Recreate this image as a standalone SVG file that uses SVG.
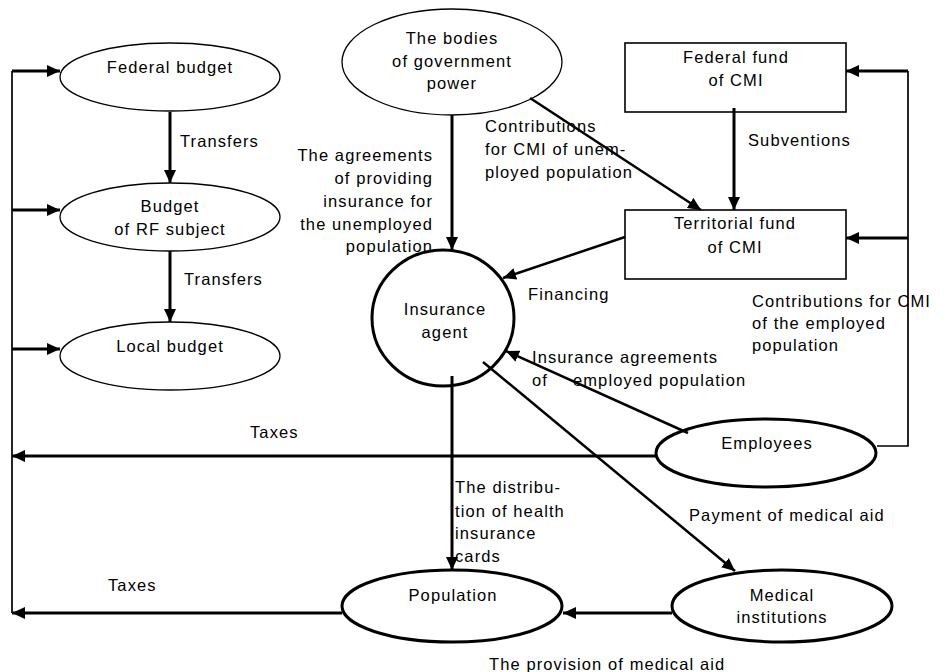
<svg xmlns="http://www.w3.org/2000/svg" width="950" height="672" viewBox="0 0 950 672">
<style>
text{font-family:"Liberation Sans",Arial,sans-serif;font-size:16.5px;letter-spacing:1.1px;fill:#000}
.c{text-anchor:middle}
.r{text-anchor:end}
.thin{fill:none;stroke:#000;stroke-width:1.3}
.thick{fill:none;stroke:#000;stroke-width:3}
.box{fill:none;stroke:#000;stroke-width:1.6}
.a{fill:none;stroke:#000;stroke-width:3;marker-end:url(#ah)}
.a2{fill:none;stroke:#000;stroke-width:2.5;marker-end:url(#ah)}
.ln{fill:none;stroke:#000;stroke-width:1.7}
</style>
<defs>
<marker id="ah" markerUnits="userSpaceOnUse" markerWidth="14" markerHeight="12" refX="13" refY="6" orient="auto">
<path d="M0,0 L13,6 L0,12 z" fill="#000"/>
</marker>
</defs>
<rect width="950" height="672" fill="#fff"/>
<g id="connectors">
<path class="ln" d="M12,71 V613"/>
<path class="a" d="M12,71 H60"/>
<path class="a" d="M12,210 H60"/>
<path class="a" d="M12,349 H60"/>
<path class="a" d="M170,112 V183"/>
<path class="a" d="M170,251 V322"/>
<path class="a" d="M656,456 H12"/>
<path class="a" d="M342,613 H12"/>
<path class="a" d="M452,115 V250"/>
<path class="a2" d="M530,98 L701,210"/>
<path class="a" d="M734,108 V210"/>
<path class="ln" d="M877,446 H908 V71"/>
<path class="a" d="M908,71 H846"/>
<path class="a" d="M908,238 H846"/>
<path class="a2" d="M625,237 L503,278"/>
<path class="a2" d="M688,433 L506,351"/>
<path class="a2" d="M483,362 L735,571"/>
<path class="a" d="M452,376 V570"/>
<path class="a" d="M672,613 H563"/>
<text x="180" y="147">Transfers</text>
<text x="184" y="285">Transfers</text>
<text x="250" y="438">Taxes</text>
<text x="108" y="591">Taxes</text>
<text class="r" x="433" y="161">The agreements</text>
<text class="r" x="433" y="184">of providing</text>
<text class="r" x="433" y="207">insurance for</text>
<text class="r" x="433" y="230">the unemployed</text>
<text class="r" x="433" y="252">population</text>
<text x="485" y="132">Contributions</text>
<text x="485" y="155">for CMI of  unem-</text>
<text x="485" y="178">ployed population</text>
<text x="748" y="146">Subventions</text>
<text x="528" y="300">Financing</text>
<text x="752" y="307">Contributions for CMI</text>
<text x="752" y="329">of the employed</text>
<text x="752" y="351">population</text>
<text x="532" y="363">Insurance agreements</text>
<text x="532" y="386">of</text>
<text x="573" y="386">employed population</text>
<text x="689" y="521">Payment of medical aid</text>
<text x="455" y="493">The distribu-</text>
<text x="455" y="517">tion of health</text>
<text x="455" y="539">insurance</text>
<text x="455" y="562">cards</text>
<text x="489" y="670">The provision of medical aid</text>
</g>
<g id="federal-budget">
<ellipse class="thin" cx="170" cy="77" rx="110" ry="34"/>
<text class="c" x="170" y="73">Federal budget</text>
</g>
<g id="budget-rf">
<ellipse class="thin" cx="170" cy="217" rx="110" ry="34"/>
<text class="c" x="170" y="212">Budget</text>
<text class="c" x="170" y="235">of RF subject</text>
</g>
<g id="local-budget">
<ellipse class="thin" cx="170" cy="356" rx="110" ry="34"/>
<text class="c" x="170" y="352">Local budget</text>
</g>
<g id="bodies">
<ellipse class="thin" cx="452" cy="62" rx="110" ry="53"/>
<text class="c" x="452" y="44">The bodies</text>
<text class="c" x="452" y="67">of government</text>
<text class="c" x="452" y="89">power</text>
</g>
<g id="federal-fund">
<rect class="box" x="625" y="43" width="221" height="69"/>
<text class="c" x="736" y="63">Federal fund</text>
<text class="c" x="736" y="86">of CMI</text>
</g>
<g id="territorial-fund">
<rect class="box" x="625" y="210" width="221" height="69"/>
<text class="c" x="735" y="229">Territorial fund</text>
<text class="c" x="735" y="253">of CMI</text>
</g>
<g id="insurance-agent">
<ellipse class="thick" cx="443" cy="318" rx="71" ry="68"/>
<text class="c" x="445" y="315">Insurance</text>
<text class="c" x="445" y="338">agent</text>
</g>
<g id="employees">
<ellipse class="thick" cx="766" cy="453" rx="110" ry="34"/>
<text class="c" x="767" y="449">Employees</text>
</g>
<g id="population">
<ellipse class="thick" cx="452" cy="606" rx="110" ry="36"/>
<text class="c" x="453" y="601">Population</text>
</g>
<g id="medical">
<ellipse class="thick" cx="782" cy="606" rx="110" ry="36"/>
<text class="c" x="782" y="601">Medical</text>
<text class="c" x="782" y="623">institutions</text>
</g>
</svg>
